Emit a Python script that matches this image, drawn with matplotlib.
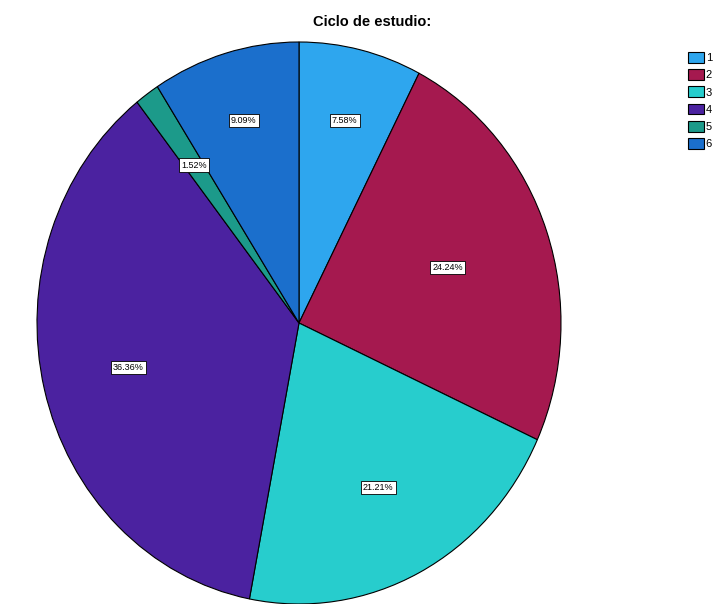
import numpy as np
import matplotlib.pyplot as plt

# Ciclo de estudio - frequencies (n = 66)
ciclos = ["1", "2", "3", "4", "5", "6"]
conteos = [5, 16, 14, 24, 1, 6]
colores = ["#2ea6ee", "#a5194f", "#27cdcd", "#4b22a0", "#1c9a8a", "#1b6fcc"]

fig = plt.figure(figsize=(7.13, 6.04), dpi=100)
ax = fig.add_axes([37 / 713, 0.0, 524 / 713, 562 / 604])

wedges, textos, pcts = ax.pie(
    conteos,
    colors=colores,
    startangle=90,
    counterclock=False,
    autopct="%1.2f%%",
    pctdistance=0.68,
    wedgeprops=dict(edgecolor="black", linewidth=0.8),
    textprops=dict(fontsize=6.5, family="Liberation Sans"),
)

# label distance from centre, per slice (as in the reference)
dist = [0.74, 0.6, 0.66, 0.67, 0.69, 0.75]
for w, t, d in zip(wedges, pcts, dist):
    ang = np.deg2rad((w.theta1 + w.theta2) / 2)
    t.set_position((d * np.cos(ang), d * np.sin(ang)))
    t.set_bbox(dict(facecolor="white", edgecolor="black", linewidth=0.6, pad=1.5))

ax.set_aspect("auto")
ax.set_xlim(-1, 1)
ax.set_ylim(-1, 1)

fig.text(372 / 713, 1 - 22 / 604, "Ciclo de estudio:", ha="center", va="center",
         fontsize=10.5, fontweight="bold", family="Liberation Sans")

fig.legend(wedges, ciclos, loc="upper left", bbox_to_anchor=(678 / 713, 1 - 42 / 604),
           frameon=False, handlelength=1.4, handleheight=1.1, handletextpad=0.2,
           labelspacing=0.55, prop=dict(family="Liberation Sans", size=8))

fig.savefig("out.png", dpi=100)
